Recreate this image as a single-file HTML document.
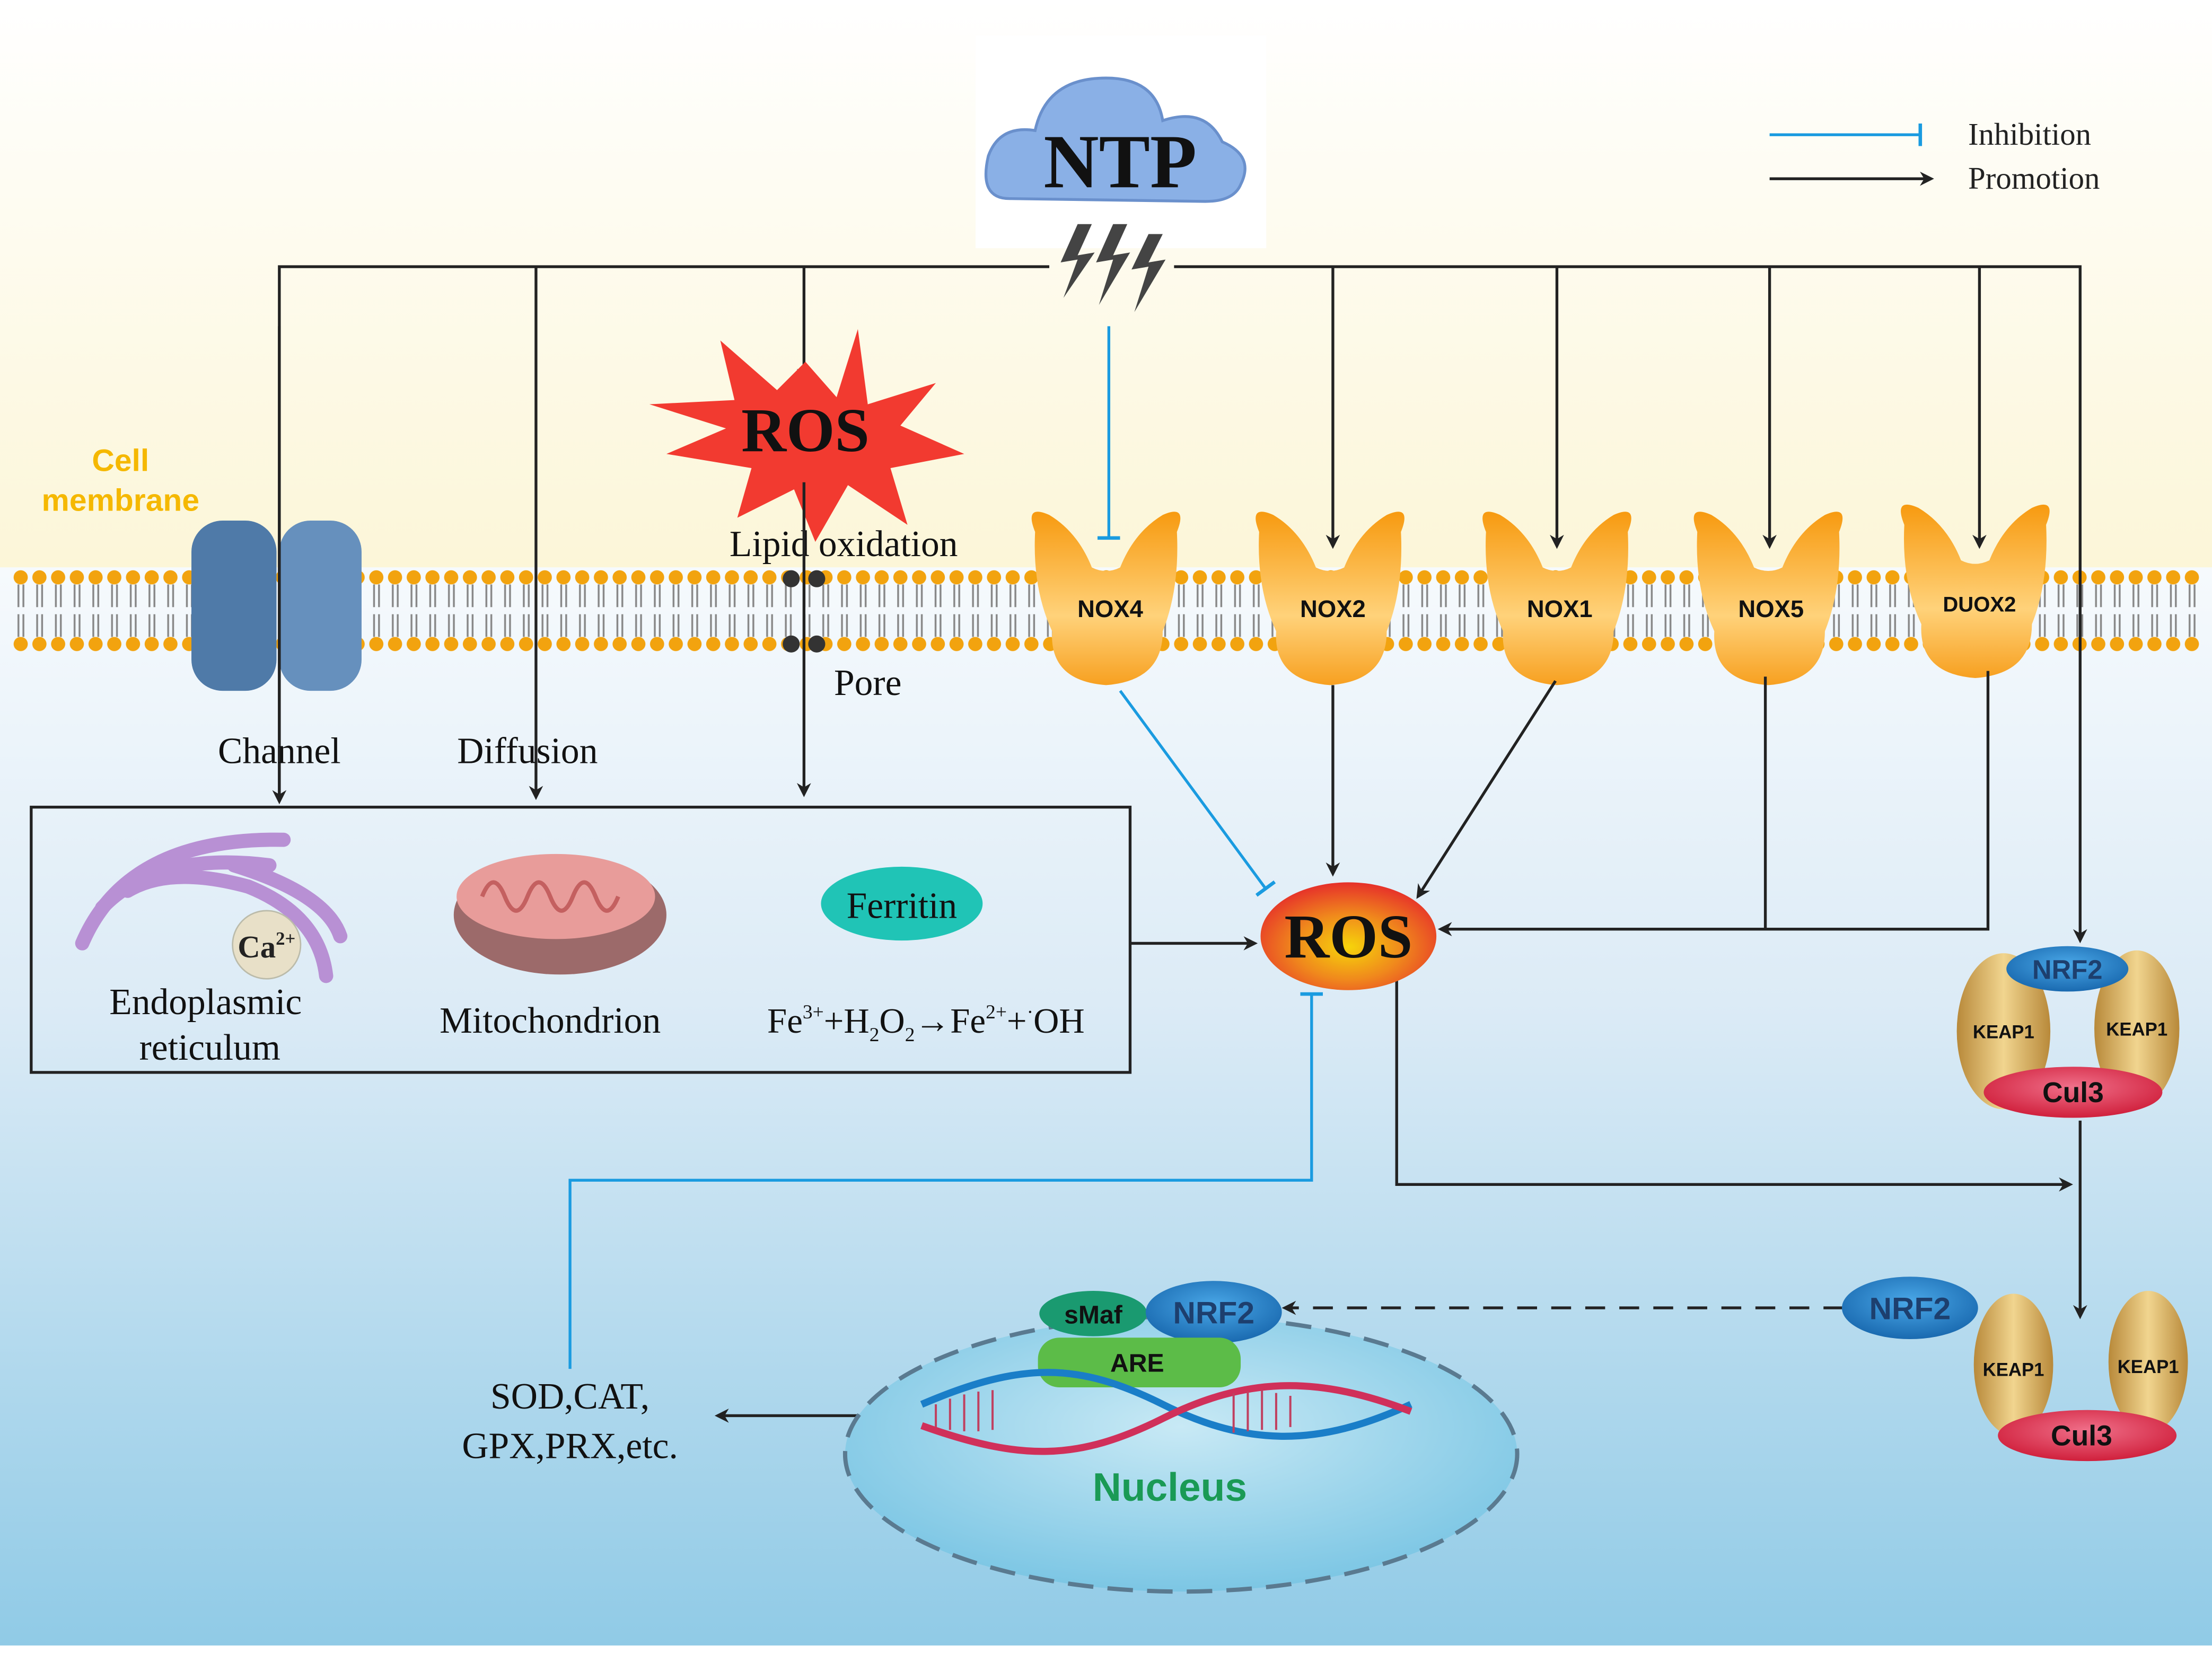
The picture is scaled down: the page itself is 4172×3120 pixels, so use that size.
<!DOCTYPE html>
<html><head><meta charset="utf-8"><style>html,body{margin:0;padding:0;background:#fff}svg{display:block}</style></head><body>
<svg width="4172" height="3120" viewBox="0 0 1560 1166" preserveAspectRatio="none" xmlns="http://www.w3.org/2000/svg" font-family="Liberation Serif, serif">
<defs>
<linearGradient id="top" x1="0" y1="0" x2="0" y2="1"><stop offset="0" stop-color="#ffffff"/><stop offset="1" stop-color="#fcf6d8"/></linearGradient>
<linearGradient id="bot" x1="0" y1="0" x2="0" y2="1"><stop offset="0" stop-color="#f6fafd"/><stop offset="0.4" stop-color="#dcebf6"/><stop offset="1" stop-color="#8fcae6"/></linearGradient>
<radialGradient id="ros" cx="0.5" cy="0.6" r="0.6"><stop offset="0" stop-color="#f6d40a"/><stop offset="0.5" stop-color="#f08a1c"/><stop offset="1" stop-color="#e6302a"/></radialGradient>
<linearGradient id="nox" x1="0" y1="0" x2="0" y2="1"><stop offset="0" stop-color="#f79a10"/><stop offset="0.6" stop-color="#ffd27a"/><stop offset="1" stop-color="#f7a020"/></linearGradient>
<radialGradient id="nuc" cx="0.5" cy="0.4" r="0.6"><stop offset="0" stop-color="#c8e9f5"/><stop offset="1" stop-color="#7cc6e4"/></radialGradient>
<linearGradient id="keap" x1="0" y1="0" x2="1" y2="0"><stop offset="0" stop-color="#b8893a"/><stop offset="0.5" stop-color="#f1d58f"/><stop offset="1" stop-color="#b8893a"/></linearGradient>
<radialGradient id="cul" cx="0.5" cy="0.4" r="0.6"><stop offset="0" stop-color="#f0708a"/><stop offset="1" stop-color="#d0203c"/></radialGradient>
<radialGradient id="nrf" cx="0.5" cy="0.4" r="0.6"><stop offset="0" stop-color="#4aa8e8"/><stop offset="1" stop-color="#1a6ab0"/></radialGradient>
<marker id="ar" markerWidth="10" markerHeight="10" refX="8" refY="5" orient="auto" markerUnits="userSpaceOnUse"><path d="M0,0 L10,5 L0,10 L3,5 Z" fill="#222"/></marker>
<marker id="tb" markerWidth="4" markerHeight="16" refX="2" refY="8" orient="auto" markerUnits="userSpaceOnUse"><rect x="0" y="0" width="2.5" height="16" fill="#1a9be0"/></marker>
<pattern id="lip" x="8" y="400" width="13.2" height="62" patternUnits="userSpaceOnUse">
<circle cx="6.6" cy="7" r="5" fill="#f2a30f"/><line x1="5" y1="12" x2="5" y2="28" stroke="#888" stroke-width="1.3"/><line x1="8.5" y1="12" x2="8.5" y2="28" stroke="#888" stroke-width="1.3"/>
<line x1="5" y1="33" x2="5" y2="49" stroke="#888" stroke-width="1.3"/><line x1="8.5" y1="33" x2="8.5" y2="49" stroke="#888" stroke-width="1.3"/>
<circle cx="6.6" cy="54" r="5" fill="#f2a30f"/></pattern>
</defs>
<rect width="1560" height="400" fill="url(#top)"/>
<rect y="400" width="1560" height="766" fill="url(#bot)"/>
<rect y="1160" width="1560" height="6" fill="#fff"/>
<rect x="8" y="400" width="1545" height="62" fill="url(#lip)"/>
<text x="85" y="332" font-family="Liberation Sans, sans-serif" font-weight="bold" font-size="22" fill="#f5b800" text-anchor="middle">Cell</text>
<text x="85" y="360" font-family="Liberation Sans, sans-serif" font-weight="bold" font-size="22" fill="#f5b800" text-anchor="middle">membrane</text>
<rect x="688" y="25" width="205" height="150" fill="#fff"/>
<path d="M712,140 Q690,140 697,110 Q705,88 730,92 Q738,55 780,55 Q815,55 820,85 Q850,75 862,100 Q885,110 875,130 Q870,142 850,142 Z" fill="#8ab0e6" stroke="#6a90cc" stroke-width="2"/>
<text x="790" y="132" font-size="54" font-weight="bold" text-anchor="middle" fill="#111">NTP</text>
<g fill="#444"><path d="M760,158 L748,185 L760,183 L750,210 L772,178 L760,180 L770,158Z"/><path d="M785,158 L773,185 L785,183 L775,215 L797,178 L785,180 L795,158Z"/><path d="M810,165 L798,190 L810,188 L800,220 L822,183 L810,185 L820,165Z"/></g>
<line x1="1248" y1="95" x2="1355" y2="95" stroke="#1a9be0" stroke-width="2" marker-end="url(#tb)"/>
<line x1="1248" y1="126" x2="1362" y2="126" stroke="#222" stroke-width="2" marker-end="url(#ar)"/>
<text x="1388" y="102" font-size="22" fill="#222">Inhibition</text>
<text x="1388" y="133" font-size="22" fill="#222">Promotion</text>
<g stroke="#222" stroke-width="2" fill="none">
<path d="M740,188 H197 V565" marker-end="url(#ar)"/>
<path d="M378,188 V562" marker-end="url(#ar)"/>
<path d="M567,188 V268" marker-end="url(#ar)"/>
<path d="M828,188 H1467 V663" marker-end="url(#ar)"/>
<path d="M940,188 V385" marker-end="url(#ar)"/>
<path d="M1098,188 V385" marker-end="url(#ar)"/>
<path d="M1248,188 V385" marker-end="url(#ar)"/>
<path d="M1396,188 V385" marker-end="url(#ar)"/>
</g>
<line x1="782" y1="230" x2="782" y2="380" stroke="#1a9be0" stroke-width="2" marker-end="url(#tb)"/>
<path d="M568,255 L590,280 L605,232 L612,285 L660,270 L635,300 L680,320 L628,330 L640,370 L598,342 L575,382 L560,345 L520,365 L530,330 L470,320 L512,302 L458,285 L518,282 L508,240 L548,275 Z" fill="#f23a30"/>
<text x="568" y="318" font-size="44" font-weight="bold" text-anchor="middle" fill="#111">ROS</text>
<text x="595" y="392" font-size="26" text-anchor="middle" fill="#111">Lipid oxidation</text>
<g fill="#333"><circle cx="558" cy="408" r="6"/><circle cx="576" cy="408" r="6"/><circle cx="558" cy="454" r="6"/><circle cx="576" cy="454" r="6"/></g>
<text x="612" y="490" font-size="26" text-anchor="middle" fill="#111">Pore</text>
<line x1="567" y1="340" x2="567" y2="560" stroke="#222" stroke-width="2" marker-end="url(#ar)"/>
<rect x="135" y="367" width="60" height="120" rx="22" fill="#4f7aa8"/>
<rect x="197" y="367" width="58" height="120" rx="22" fill="#6690bd"/>
<line x1="197" y1="230" x2="197" y2="565" stroke="#222" stroke-width="2"/>
<text x="197" y="538" font-size="26" text-anchor="middle" fill="#111">Channel</text>
<text x="372" y="538" font-size="26" text-anchor="middle" fill="#111">Diffusion</text>
<rect x="22" y="569" width="775" height="187" fill="none" stroke="#222" stroke-width="2"/>
<g fill="none" stroke="#b890d4" stroke-width="10" stroke-linecap="round">
<path d="M58,665 Q90,590 200,592"/><path d="M72,640 Q110,600 190,610"/><path d="M90,628 Q120,610 175,625"/>
<path d="M165,610 Q230,630 240,660"/><path d="M175,625 Q225,645 230,688"/>
</g>
<circle cx="188" cy="666" r="24" fill="#e8e0c8" stroke="#bba" stroke-width="1"/>
<text x="188" y="675" font-size="22" font-weight="bold" text-anchor="middle" fill="#222">Ca<tspan font-size="13" dy="-9">2+</tspan></text>
<text x="145" y="715" font-size="26" text-anchor="middle" fill="#111">Endoplasmic</text>
<text x="148" y="747" font-size="26" text-anchor="middle" fill="#111">reticulum</text>
<ellipse cx="395" cy="645" rx="75" ry="42" fill="#9c6a6a"/>
<ellipse cx="392" cy="632" rx="70" ry="30" fill="#e89c9a"/>
<path d="M340,632 q8,-20 16,0 q8,20 16,0 q8,-20 16,0 q8,20 16,0 q8,-20 16,0 q8,20 16,0" fill="none" stroke="#c46060" stroke-width="3"/>
<text x="388" y="728" font-size="26" text-anchor="middle" fill="#111">Mitochondrion</text>
<ellipse cx="636" cy="637" rx="57" ry="26" fill="#20c4b6"/>
<text x="636" y="647" font-size="26" text-anchor="middle" fill="#111">Ferritin</text>
<text x="653" y="728" font-size="25" text-anchor="middle" fill="#111">Fe<tspan font-size="14" dy="-10">3+</tspan><tspan dy="10">+H</tspan><tspan font-size="14" dy="6">2</tspan><tspan dy="-6">O</tspan><tspan font-size="14" dy="6">2</tspan><tspan dy="-6">→Fe</tspan><tspan font-size="14" dy="-10">2+</tspan><tspan dy="10">+</tspan><tspan font-size="14" dy="-10">·</tspan><tspan dy="10">OH</tspan></text>
<g font-family="Liberation Sans, sans-serif" font-weight="bold" font-size="17" fill="#111" text-anchor="middle">
<path id="y" d="M-50,-50 Q-58,-70 -40,-62 Q-20,-50 -10,-25 Q0,-20 10,-25 Q20,-50 40,-62 Q58,-70 50,-50 Q52,-10 40,20 Q40,55 0,58 Q-40,55 -38,20 Q-52,-10 -50,-50Z" fill="url(#nox)" transform="translate(780,425)"/>
<use href="#y" transform="translate(158,0)"/><use href="#y" transform="translate(318,0)"/><use href="#y" transform="translate(467,0)"/><use href="#y" transform="translate(613,-5)"/>
<text x="783" y="435">NOX4</text><text x="940" y="435">NOX2</text><text x="1100" y="435">NOX1</text><text x="1249" y="435">NOX5</text><text x="1396" y="431" font-size="15">DUOX2</text>
</g>
<line x1="790" y1="487" x2="893" y2="627" stroke="#1a9be0" stroke-width="2" marker-end="url(#tb)"/>
<g stroke="#222" stroke-width="2" fill="none">
<path d="M940,483 V616" marker-end="url(#ar)"/>
<path d="M1097,480 L1000,632" marker-end="url(#ar)"/>
<path d="M1245,477 V655 M1402,473 V655 H1016" marker-end="url(#ar)"/>
<path d="M797,665 H885" marker-end="url(#ar)"/>
<path d="M985,690 V835 H1460" marker-end="url(#ar)"/>
<path d="M1467,790 V928" marker-end="url(#ar)"/>
<path d="M648,998 H506" marker-end="url(#ar)"/>
<path d="M1300,922 H906" stroke-dasharray="14,10" marker-end="url(#ar)"/>
</g>
<ellipse cx="951" cy="660" rx="62" ry="38" fill="url(#ros)"/>
<text x="951" y="675" font-size="44" font-weight="bold" text-anchor="middle" fill="#111">ROS</text>
<path d="M402,965 V832 H925 V700" fill="none" stroke="#1a9be0" stroke-width="2" marker-end="url(#tb)"/>
<g font-family="Liberation Sans, sans-serif" font-weight="bold" fill="#111" text-anchor="middle">
<ellipse cx="1413" cy="727" rx="33" ry="55" fill="url(#keap)"/><ellipse cx="1507" cy="725" rx="30" ry="55" fill="url(#keap)"/>
<text x="1413" y="732" font-size="13">KEAP1</text><text x="1507" y="730" font-size="13">KEAP1</text>
<ellipse cx="1462" cy="770" rx="63" ry="18" fill="url(#cul)"/><text x="1462" y="777" font-size="20">Cul3</text>
<ellipse cx="1458" cy="683" rx="43" ry="16" fill="url(#nrf)"/><text x="1458" y="690" font-size="19" fill="#1d3f6e">NRF2</text>
<ellipse cx="1420" cy="962" rx="28" ry="50" fill="url(#keap)"/><ellipse cx="1515" cy="960" rx="28" ry="50" fill="url(#keap)"/>
<text x="1420" y="970" font-size="13">KEAP1</text><text x="1515" y="968" font-size="13">KEAP1</text>
<ellipse cx="1472" cy="1012" rx="63" ry="18" fill="url(#cul)"/><text x="1468" y="1019" font-size="20">Cul3</text>
<ellipse cx="1347" cy="922" rx="48" ry="22" fill="url(#nrf)"/><text x="1347" y="930" font-size="22" fill="#1d3f6e">NRF2</text>
</g>
<ellipse cx="833" cy="1025" rx="237" ry="97" fill="url(#nuc)" stroke="#5a7a90" stroke-width="3" stroke-dasharray="18,10"/>
<g font-family="Liberation Sans, sans-serif" font-weight="bold" text-anchor="middle">
<ellipse cx="771" cy="926" rx="38" ry="16" fill="#1a9a70"/><text x="771" y="933" font-size="18" fill="#111">sMaf</text>
<ellipse cx="856" cy="925" rx="48" ry="22" fill="url(#nrf)"/><text x="856" y="933" font-size="22" fill="#1d3f6e">NRF2</text>
<rect x="732" y="943" width="143" height="35" rx="15" fill="#5cbc48"/><text x="802" y="967" font-size="18" fill="#111">ARE</text>
<text x="825" y="1058" font-size="28" fill="#1a9a55">Nucleus</text>
</g>
<g fill="none" stroke-width="5">
<path d="M650,990 C720,960 760,960 820,990 C880,1020 930,1020 995,990" stroke="#1a7ec8"/>
<path d="M650,1005 C720,1030 760,1030 820,1000 C880,970 930,970 995,995" stroke="#d0305a"/>
</g>
<g stroke="#c04060" stroke-width="1.5"><path d="M660,990 v16 M670,986 v22 M680,983 v26 M690,981 v28 M700,980 v28 M870,982 v28 M880,981 v28 M890,980 v28 M900,982 v26 M910,984 v22"/></g>
<text x="402" y="993" font-size="26" text-anchor="middle" fill="#111">SOD,CAT,</text>
<text x="402" y="1028" font-size="26" text-anchor="middle" fill="#111">GPX,PRX,etc.</text>
</svg>
</body></html>
